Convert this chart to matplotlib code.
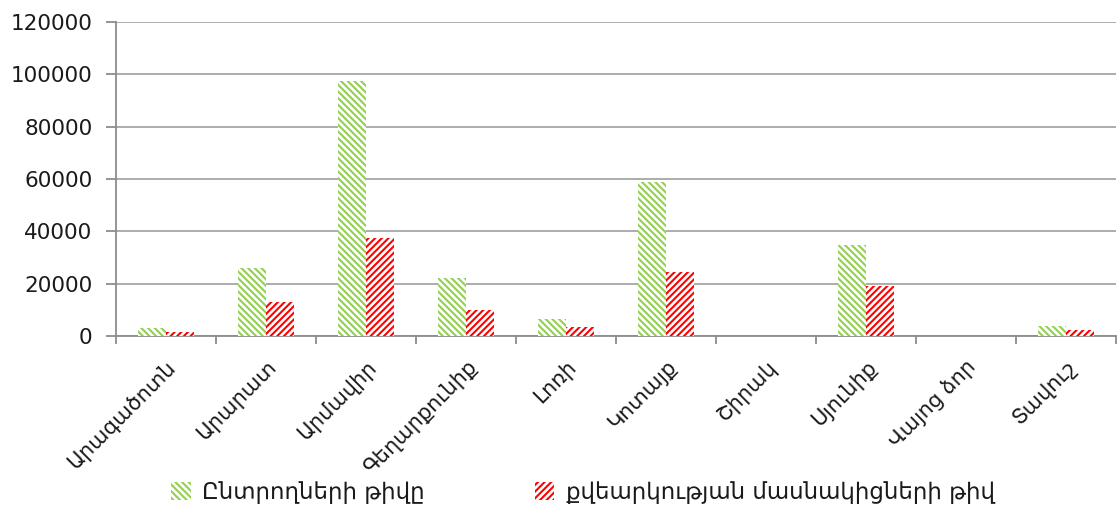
import matplotlib
matplotlib.use("Agg")
import matplotlib.pyplot as plt
import numpy as np

categories = ["Արագածոտն", "Արարատ", "Արմավիր", "Գեղարքունիք", "Լոռի",
              "Կոտայք", "Շիրակ", "Սյունիք", "Վայոց ձոր", "Տավուշ"]
voters = [3000, 26000, 97500, 22200, 6500, 58900, 0, 34800, 0, 3800]
participants = [1500, 13000, 37500, 10000, 3500, 24500, 0, 19100, 0, 2300]
series_names = ["Ընտրողների թիվը", "քվեարկության մասնակիցների թիվ"]
yticks = [0, 20000, 40000, 60000, 80000, 100000, 120000]

plt.rcParams['font.family'] = ['DejaVu Sans']
plt.rcParams['hatch.linewidth'] = 1.5

fig = plt.figure(figsize=(11.17, 5.08), dpi=100)
ax = fig.add_axes([0.1039, 0.3386, 0.8951, 0.6181])

x = np.arange(len(categories))
w = 0.28
green = '#92d050'
red = '#ff0000'
b1 = ax.bar(x - w/2, voters, w, facecolor='white', edgecolor=green, hatch='\\' * 5, linewidth=0, label=series_names[0], zorder=3)
b2 = ax.bar(x + w/2, participants, w, facecolor='white', edgecolor=red, hatch='/' * 5, linewidth=0, label=series_names[1], zorder=3)

ax.set_xlim(-0.5, len(categories) - 0.5)
ax.set_ylim(0, 120000)
ax.set_yticks(yticks)
ax.set_yticklabels([str(v) for v in yticks], fontsize=15.5, color='#1a1a1a')
ax.yaxis.grid(True, color='#a6a6a6', linewidth=1.3, zorder=0)
ax.set_axisbelow(True)

ax.set_xticks(x)
ax.set_xticklabels(categories, rotation=45, ha='right', rotation_mode='anchor', fontsize=15, color='#1a1a1a')
ax.tick_params(axis='x', which='major', length=0, pad=15)
ax.set_xticks(np.arange(-0.5, len(categories) + 0.5, 1), minor=True)
ax.tick_params(axis='x', which='minor', length=6, color='#8c8c8c', width=1.3)
ax.tick_params(axis='y', length=7, color='#8c8c8c', width=1.3, pad=10)

for s in ['top', 'right']:
    ax.spines[s].set_visible(False)
for s in ['left', 'bottom']:
    ax.spines[s].set_color('#8c8c8c')
    ax.spines[s].set_linewidth(1.3)

leg = fig.legend(handles=[b1, b2], loc='lower center', bbox_to_anchor=(0.522, -0.032), ncol=2,
                 frameon=False, fontsize=16.5, handlelength=0.85, handleheight=0.85,
                 columnspacing=4.8, handletextpad=0.5, labelcolor='#1a1a1a')

fig.savefig("out.png", dpi=100)
